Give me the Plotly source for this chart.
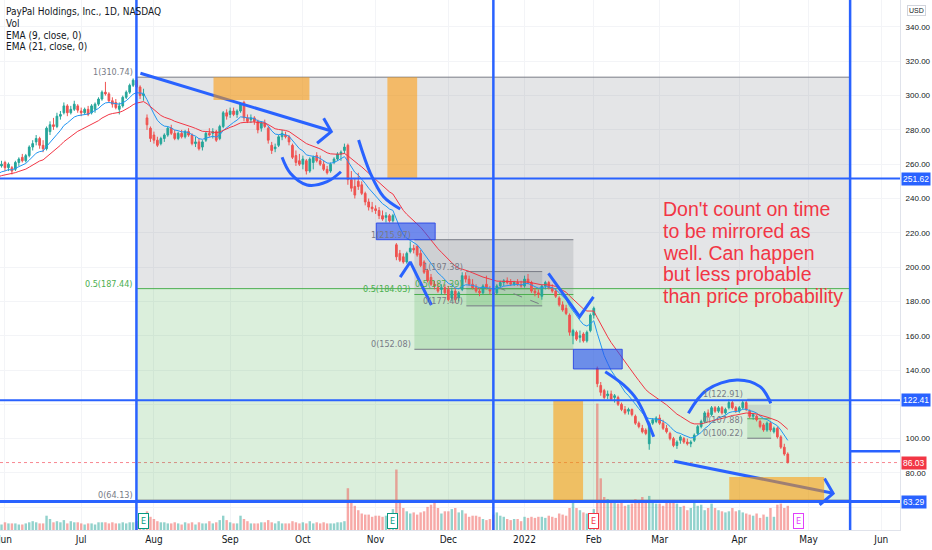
import numpy as np
import pandas as pd
import plotly.graph_objects as go

# ---------------- data ----------------
holidays = ["2021-05-31", "2021-07-05", "2021-09-06", "2021-11-25", "2021-12-24",
            "2022-01-17", "2022-02-21", "2022-04-15", "2022-05-30", "2022-06-20"]
first_day, last_day = "2021-05-03", "2022-04-22"

opens = [
    # May 2021
    262, 259, 254, 253, 252, 246, 234, 238, 235, 238, 245, 245, 240, 248, 254, 254, 259, 260, 260, 259,
    # Jun
    261, 258, 258, 257, 261, 264, 262, 265, 270, 273, 275, 271, 269, 279, 283, 282, 288, 290, 294, 290, 292, 294,
    # Jul
    291, 290, 292, 290, 292, 295, 298, 302, 301, 297, 296, 292, 294, 299, 302, 306, 309, 305, 300, 287, 281,
    # Aug
    277, 274, 272, 275, 277, 281, 278, 275, 278, 276, 279, 277, 272, 273, 270, 274, 278, 278, 279, 275, 282, 290,
    # Sep
    289, 291, 289, 291, 296, 287, 286, 287, 285, 281, 284, 281, 271, 269, 271, 276, 277, 276, 271, 265, 262,
    # Oct
    260, 262, 256, 261, 265, 262, 260, 257, 256, 261, 263, 266, 268, 271, 251, 247, 250, 248, 243, 238, 235,
    # Nov
    234, 233, 230, 229, 230, 227, 213, 208, 206, 203, 209, 211, 212, 208, 203, 198, 194, 190, 188, 187, 188,
    # Dec
    187, 182, 186, 182, 187, 195, 193, 190, 188, 186, 185, 190, 187, 185, 185, 189, 191, 192, 191, 190, 191, 190,
    # Jan 2022
    189, 193, 191, 186, 185, 183, 189, 191, 188, 186, 182, 178, 176, 172, 160, 162, 159, 161, 157, 163,
    # Feb
    172, 141, 131, 128, 125, 126, 124, 124, 120, 117, 116, 117, 113, 109, 106, 105, 97, 109, 110,
    # Mar
    112, 109, 106, 103, 100, 96, 99, 100, 98, 97, 99, 103, 107, 110, 115, 114, 118, 116, 118, 115, 118, 121, 118,
    # Apr
    116, 118, 121, 116, 113, 113, 110, 108, 105, 109, 104, 106, 101, 95, 91,
]
highs = [
    264, 260, 257, 256, 255, 248, 242, 240, 238, 247, 247, 248, 248, 254, 255, 259, 262, 263, 262, 262,
    262, 261, 259, 262, 264, 266, 266, 271, 274, 277, 276, 274, 282, 285, 287, 290, 291, 296, 295, 294, 297, 295,
    293, 293, 294, 295, 296, 299, 303, 308, 302, 299, 298, 296, 300, 303, 307, 310, 310.7, 306, 304, 289, 282,
    279, 276, 276, 278, 282, 283, 280, 279, 280, 280, 281, 278, 276, 275, 274, 279, 281, 281, 280, 283, 291, 292,
    293, 293, 292, 296, 297, 289, 289, 288, 286, 285, 286, 282, 273, 272, 277, 280, 279, 277, 272, 268, 266,
    265, 263, 264, 265, 267, 265, 262, 259, 261, 264, 267, 268, 272, 272, 256, 252, 255, 250, 244, 240, 238,
    236, 235, 233, 232, 231, 231, 214, 210, 208, 209, 215, 213, 213, 210, 204, 199, 196, 192, 191, 190, 190,
    189, 188, 188, 186, 197, 197, 195, 193, 190, 188, 190, 195, 189, 187, 190, 192, 193, 194, 193, 192, 193, 192,
    195, 196, 192, 188, 187, 190, 192, 192, 190, 187, 183, 180, 178, 173, 164, 163, 163, 162, 163, 173,
    177, 142, 133, 129, 128, 128, 126, 125, 121, 119, 118, 117.5, 114, 110, 108, 106, 110, 112, 113,
    114, 111, 108, 104, 101, 99, 102, 101, 100, 99, 103, 108, 111, 116, 117, 119, 119, 119, 119, 118, 122.9, 122, 119,
    119, 122, 122, 117, 115, 114, 111, 109, 110, 110, 107, 107, 102, 97, 92,
]
lows = [
    258, 250, 251, 247, 245, 237, 233, 232, 232, 237, 241, 242, 239, 247, 250, 253, 256, 258, 256, 258,
    256, 256, 254, 256, 259, 261, 261, 264, 268, 271, 269, 267, 268, 277, 280, 281, 286, 289, 288, 289, 291, 290,
    288, 289, 288, 289, 290, 294, 297, 300, 296, 293, 292, 289, 293, 298, 301, 305, 304, 298, 297, 280, 273,
    272, 270, 271, 273, 276, 277, 274, 274, 275, 275, 276, 271, 270, 268, 268, 273, 276, 275, 273, 274, 281, 286,
    287, 288, 287, 290, 285, 284, 284, 283, 278, 279, 281, 272, 266, 267, 270, 274, 275, 271, 263, 259, 259,
    257, 254, 255, 257, 261, 259, 256, 254, 255, 260, 262, 262, 266, 248, 244, 240, 245, 242, 236, 233, 232,
    231, 228, 227, 226, 226, 226, 204, 203, 202, 202, 208, 208, 206, 200, 196, 191, 189, 187, 185, 184, 184,
    180, 180, 179, 180, 186, 191, 189, 187, 185, 183, 184, 187, 184, 182, 184, 188, 189, 190, 189, 189, 189, 188,
    188, 190, 185, 183, 182, 181, 187, 187, 185, 182, 177, 174, 172, 160, 155, 157, 156, 156, 156, 162,
    170, 130, 125, 123, 123, 122, 121, 119, 116, 114, 114, 113, 108, 106, 103, 102, 93.5, 108, 109,
    108, 105, 103, 99, 95, 94, 97, 97, 96, 95, 98, 102, 106, 109, 112, 113, 115, 115, 114, 114, 117, 117, 115,
    115, 117, 116, 112, 111, 110, 106, 104, 104, 104, 103, 100, 94, 90, 85.5,
]
closes = [
    260, 253, 252, 255, 247, 238, 241, 233, 236, 246, 244, 243, 247, 253, 252, 258, 260, 261, 258, 260,
    258, 260, 256, 261, 263, 262, 265, 270, 272, 275, 271, 269, 281, 283, 282, 288, 289, 294, 290, 292, 295, 291.5,
    290, 292, 289, 294, 295, 298, 302, 301, 297, 295, 293, 294, 299, 302, 306, 309, 305, 300, 301, 283, 275,
    274, 271, 275, 277, 281, 278, 275, 278, 276, 279, 277, 272, 273, 269, 273, 278, 277, 279, 274, 282, 290, 288,
    291, 289, 291, 295, 287, 285, 287, 285, 280, 284, 282, 274, 268, 270, 276, 278, 276, 273, 264, 261, 260,
    263, 256, 263, 264, 262, 260, 257, 255, 260, 263, 266, 267, 270, 251, 246, 242, 247, 243, 238, 235, 234,
    233, 230, 228, 230, 227, 230, 206, 204, 203, 208, 211, 210, 207, 201, 197, 192, 190, 189, 186, 188, 185,
    181, 186, 181, 185, 195, 193, 190, 188, 186, 185, 189, 188, 186, 184, 189, 191, 192, 191, 190, 191, 190, 189,
    193, 191, 186, 185, 184, 189, 191, 188, 186, 183, 178, 175, 173, 162, 163, 158, 160, 157, 162, 172,
    176, 132, 127, 124, 126, 123, 125, 120, 117, 115, 117, 114, 109, 107, 104, 103, 109, 111, 112,
    109, 106, 104, 100, 96, 98, 101, 98, 97, 98, 102, 107, 110, 115, 113, 118, 116, 118, 115, 117, 121, 118, 116,
    118, 121, 117, 113, 114, 111, 107, 105, 109, 105, 106, 101, 95, 91, 86.03,
]
volumes_m = [
    9, 8, 7, 9, 12, 10, 9, 8, 7, 8, 6, 6, 7, 7, 6, 6, 6, 5, 6, 5,
    7, 6, 6, 6, 5, 5, 6, 7, 8, 7, 6, 6, 13, 10, 7, 8, 7, 9, 6, 8, 7, 7,
    6, 5, 6, 6, 5, 7, 7, 7, 6, 7, 6, 6, 7, 6, 7, 7, 8, 7, 11, 17, 12,
    10, 8, 7, 7, 6, 6, 7, 6, 5, 7, 6, 7, 5, 7, 6, 6, 8, 6, 7, 9, 13, 9,
    7, 6, 6, 13, 10, 8, 6, 6, 6, 7, 7, 9, 7, 6, 8, 6, 6, 6, 8, 7, 6,
    7, 6, 8, 6, 7, 6, 7, 6, 6, 6, 7, 7, 8, 38, 27, 22, 18, 15, 14, 14, 12,
    13, 13, 12, 13, 14, 19, 55, 26, 20, 17, 15, 16, 14, 16, 17, 21, 23, 26, 20, 15, 17,
    17, 19, 20, 16, 18, 15, 12, 13, 13, 12, 10, 9, 10, 14, 16, 13, 12, 10, 9, 10, 10, 8,
    12, 11, 12, 11, 12, 12, 11, 13, 12, 11, 15, 14, 13, 20, 25, 20, 18, 16, 15, 13,
    19, 115, 47, 30, 28, 26, 27, 24, 27, 22, 23, 24, 28, 26, 30, 27, 31, 25, 24,
    24, 22, 26, 25, 27, 24, 21, 22, 18, 20, 25, 22, 23, 18, 20, 24, 20, 18, 17, 16, 17, 20, 17,
    18, 16, 15, 14, 13, 15, 11, 14, 12, 20, 12, 23, 24, 20, 22,
]
month_ticks = ["2021-06-01", "2021-07-01", "2021-08-02", "2021-09-01", "2021-10-01", "2021-11-01",
               "2021-12-01", "2022-01-03", "2022-02-01", "2022-03-01", "2022-04-01", "2022-05-02", "2022-06-01"]
month_labels = ["Jun", "Jul", "Aug", "Sep", "Oct", "Nov", "Dec", "2022", "Feb", "Mar", "Apr", "May", "Jun"]
price_ticks = list(range(60, 341, 20))
hidden_ticks = [60, 120]  # labels covered by the price tags

# fibonacci levels (price) and key horizontal levels
fib_big = (310.74, 187.44, 64.13)
fib_mid = (215.97, 184.03, 152.08)
fib_small = (197.38, 187.39, 177.40)
fib_apr = (122.91, 111.57, 100.22)
h_levels = [251.62, 122.41, 63.29]
last_close = 86.03
earnings = [("2021-07-28", "#089981"), ("2021-11-08", "#089981"), ("2022-02-01", "#F23645"), ("2022-04-27", "#E040FB")]

# ---------------- calendar helpers ----------------
cal = [d for d in pd.bdate_range(first_day, "2022-06-30") if d.strftime("%Y-%m-%d") not in holidays]
dates = [d for d in cal if d <= pd.Timestamp(last_day)]
assert len(dates) == len(opens) == len(highs) == len(lows) == len(closes) == len(volumes_m)
origin = cal.index(pd.Timestamp("2021-06-01"))


def bx(i):
    """date at fractional bar offset i (0 = 1 Jun 2021)"""
    k = int(np.floor(i))
    f = i - k
    return (cal[origin + k] + pd.Timedelta(days=f)).strftime("%Y-%m-%d %H:%M:%S")


UP, DN = "#26A69A", "#EF5350"
BLUE = "#2962FF"
UI = "Liberation Sans Narrow, DejaVu Sans Condensed, Liberation Sans, Arial, sans-serif"
AX = "Liberation Sans, Arial, sans-serif"

close_s = pd.Series(closes, dtype=float)
ema9 = close_s.ewm(span=9, adjust=False).mean()
ema21 = close_s.ewm(span=21, adjust=False).mean()

fig = go.Figure()

vol_colors = ["rgba(38,166,154,0.5)" if c >= o else "rgba(239,83,80,0.5)" for o, c in zip(opens, closes)]
fig.add_trace(go.Bar(x=dates, y=volumes_m, marker=dict(color=vol_colors, line=dict(width=0)),
                     yaxis="y2", hoverinfo="skip"))
fig.add_trace(go.Candlestick(x=dates, open=opens, high=highs, low=lows, close=closes,
                             increasing=dict(line=dict(color=UP, width=1), fillcolor=UP),
                             decreasing=dict(line=dict(color=DN, width=1), fillcolor=DN),
                             whiskerwidth=0, hoverinfo="skip"))
fig.add_trace(go.Scatter(x=dates, y=ema9, mode="lines", line=dict(color="#2196F3", width=1), hoverinfo="skip"))
fig.add_trace(go.Scatter(x=dates, y=ema21, mode="lines", line=dict(color="#F23645", width=1), hoverinfo="skip"))

# ---------------- drawings ----------------
strokes = [
    ([(39.1, 313.0), (94.0, 279.5)], "linear"),
    ([(92.0, 286.8), (94.2, 279.0), (90.1, 272.2)], "linear"),
    ([(80.0, 264.0), (82.4, 254.7), (87.2, 247.9), (93.0, 249.8), (97.0, 255.6)], "spline"),
    ([(102.1, 274.1), (105.5, 254.7), (109.3, 241.0), (114.1, 233.9)], "spline"),
    ([(114.1, 194.2), (117.0, 203.0), (123.1, 177.9)], "linear"),
    ([(156.9, 196.4), (165.9, 171.1), (169.9, 182.7)], "linear"),
    ([(173.3, 139.0), (178.6, 131.3), (182.5, 122.5), (187.3, 101.1)], "spline"),
    ([(197.3, 114.8), (202.6, 128.3), (211.3, 134.2), (218.0, 130.3), (221.1, 120.6)], "spline"),
    ([(193.2, 86.8), (239.1, 68.1)], "linear"),
    ([(236.6, 76.8), (239.1, 68.1), (235.2, 61.3)], "linear"),
]
for pts, shp in strokes:
    fig.add_trace(go.Scatter(x=[bx(i) for i, _ in pts], y=[p for _, p in pts], mode="lines",
                             line=dict(color=BLUE, width=3, shape=shp), hoverinfo="skip"))

shapes = []
GRAYF, GREENF = "rgba(120,123,134,0.2)", "rgba(76,175,80,0.2)"


def fib(i0, i1, lv, top_lo=None):
    hi, mid, lo = lv
    shapes.append(dict(type="rect", xref="x", yref="y", x0=bx(i0), x1=bx(i1), y0=mid, y1=top_lo or hi,
                       fillcolor=GRAYF, line=dict(width=0), layer="between"))
    shapes.append(dict(type="rect", xref="x", yref="y", x0=bx(i0), x1=bx(i1), y0=lo, y1=mid,
                       fillcolor=GREENF, line=dict(width=0), layer="between"))
    for v, c in ((hi, "#787B86"), (mid, "#4CAF50"), (lo, "#787B86")):
        shapes.append(dict(type="line", xref="x", yref="y", x0=bx(i0), x1=bx(i1), y0=v, y1=v,
                           line=dict(color=c, width=1), layer="between"))


fib(37.95, 244.0, fib_big)
fib(118.2, 164.1, fib_mid)
fib(133.2, 155.1, fib_small)
fib(214.3, 221.2, fib_apr, top_lo=119.6)
shapes.append(dict(type="line", xref="x", yref="y", x0=bx(142.0), x1=bx(155.1), y0=188.4, y1=177.9,
                   line=dict(color="#787B86", width=1, dash="dash"), layer="between"))

# dotted last price line
shapes.append(dict(type="line", xref="paper", yref="y", x0=0, x1=1, y0=last_close, y1=last_close,
                   line=dict(color="rgba(242,54,69,0.6)", width=1, dash="dot"), layer="between"))

ORANGE = "rgba(255,152,0,0.55)"
for i0, i1, p0, p1 in [(60.2, 87.9, 297.4, 310.74), (110.4, 119.0, 251.62, 310.74),
                       (158.3, 166.9, 63.29, 122.41), (209.1, 236.5, 63.29, 77.6)]:
    shapes.append(dict(type="rect", xref="x", yref="y", x0=bx(i0), x1=bx(i1), y0=p0, y1=p1,
                       fillcolor=ORANGE, line=dict(width=0), layer="above"))
for i0, i1, p0, p1 in [(107.2, 124.2, 215.97, 225.7), (164.1, 178.2, 140.6, 152.08)]:
    shapes.append(dict(type="rect", xref="x", yref="y", x0=bx(i0), x1=bx(i1), y0=p0, y1=p1,
                       fillcolor="rgba(41,82,240,0.62)", line=dict(color="rgba(41,70,230,0.9)", width=1),
                       layer="above"))

for v, w in zip(h_levels, [2, 2, 3]):
    shapes.append(dict(type="line", xref="paper", yref="y", x0=0, x1=1, y0=v, y1=v,
                       line=dict(color=BLUE, width=w), layer="above"))
for i in (37.95, 141.0, 244.0):
    shapes.append(dict(type="line", xref="x", yref="paper", x0=bx(i), x1=bx(i), y0=0, y1=1,
                       line=dict(color=BLUE, width=2.5), layer="above"))
shapes.append(dict(type="line", xref="x", yref="y", x0=bx(244.0), x1=bx(258.4), y0=92.6, y1=92.6,
                   line=dict(color=BLUE, width=2.5), layer="above"))

ann = []
# fib labels
for i0, lv in [(37.95, fib_big), (118.2, fib_mid), (133.2, fib_small)]:
    for v, lab, c in zip(lv, ("1", "0.5", "0"), ("#787B86", "#4CAF50", "#787B86")):
        ann.append(dict(x=bx(i0), y=v, xref="x", yref="y", text=f"{lab}({v:.2f})", showarrow=False,
                        xanchor="right", yanchor="bottom", xshift=-1, yshift=-2,
                        font=dict(family=UI, size=9, color=c)))
for v in (122.91, 107.88, 100.22):
    lab = "1" if v == 122.91 else "0"
    ann.append(dict(x=bx(213.6), y=v, xref="x", yref="y", text=f"{lab}({v:.2f})", showarrow=False,
                    xanchor="right", yanchor="bottom", yshift=-2, font=dict(family=UI, size=9, color="#787B86")))

# red note
note = ["Don't count on time", "to be mirrored as", "well. Can happen", "but less probable",
        "than price probability"]
for k, line in enumerate(note):
    ann.append(dict(x=661 / 900, y=1 - (209 + 21.8 * k) / 530, xref="paper", yref="paper", text=line,
                    showarrow=False, xanchor="left", yanchor="middle",
                    font=dict(family="Liberation Sans, Arial, sans-serif", size=19.5, color="#F23645")))

# header legend
for k, line in enumerate(["PayPal Holdings, Inc., 1D, NASDAQ", "Vol", "EMA (9, close, 0)", "EMA (21, close, 0)"]):
    ann.append(dict(x=0.004, y=1 - (11.7 + 11.7 * k) / 530, xref="paper", yref="paper", text=line,
                    showarrow=False, xanchor="left", yanchor="middle",
                    font=dict(family=UI, size=10, color="#131722")))

# price tags on axis
for v, c in [(251.62, BLUE), (122.41, BLUE), (63.29, BLUE), (last_close, "#F23645")]:
    ann.append(dict(x=1, y=v, xref="paper", yref="y", text=f"{v:.2f}", showarrow=False, xanchor="left",
                    xshift=1, bgcolor=c, borderpad=1, font=dict(family=AX, size=8.5, color="white")))
ann.append(dict(x=1, y=1 - 11 / 530, xref="paper", yref="paper", text="USD", showarrow=False,
                xanchor="left", yanchor="middle", xshift=7, bordercolor="#D1D4DC", borderwidth=1, borderpad=1,
                bgcolor="white", font=dict(family=AX, size=7, color="#131722")))

# earnings markers
for d, c in earnings:
    ann.append(dict(x=d, y=9 / 530, xref="x", yref="paper", text="E", showarrow=False, yanchor="middle",
                    bordercolor=c, borderwidth=1, borderpad=2, bgcolor="white",
                    font=dict(family=UI, size=9, color=c)))

fig.update_layout(
    width=932, height=550, margin=dict(l=0, r=32, t=0, b=20, autoexpand=False),
    paper_bgcolor="white", plot_bgcolor="white", showlegend=False, bargap=0.3,
    shapes=shapes, annotations=ann,
    xaxis=dict(type="date", range=[bx(-1.44), bx(258.4)],
               rangebreaks=[dict(bounds=["sat", "mon"]), dict(values=holidays)],
               tickvals=month_ticks, ticktext=month_labels, ticks="", showgrid=True, gridcolor="#F3F4F7",
               tickfont=dict(family=UI, size=10, color="#131722"), showline=True, linecolor="#E0E3EB",
               ticklabeloverflow="allow", automargin=False,
               rangeslider=dict(visible=False), fixedrange=True, zeroline=False),
    yaxis=dict(side="right", range=[46.71, 355.74], tickvals=price_ticks,
               ticktext=["" if v in hidden_ticks else f"{v:.2f}" for v in price_ticks], ticks="",
               showgrid=True, gridcolor="#F3F4F7", automargin=False,
               tickfont=dict(family=AX, size=8, color="#131722"), showline=True, linecolor="#E0E3EB",
               zeroline=False, ticklabelstandoff=3, fixedrange=True),
    yaxis2=dict(overlaying="y", range=[0, 482], visible=False, fixedrange=True),
)

fig.write_html("out.html", config={"displayModeBar": False, "staticPlot": True},
               post_script="document.body.style.margin='0px';document.body.style.overflow='hidden';")
